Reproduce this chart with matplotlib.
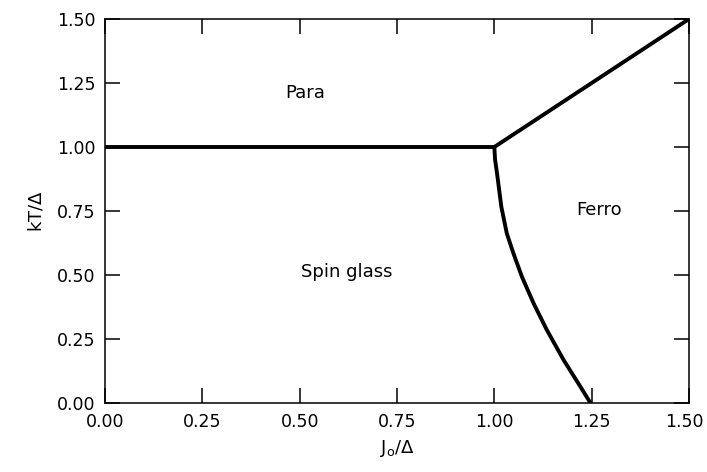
import matplotlib
matplotlib.use("Agg")
import matplotlib.pyplot as plt
from matplotlib.transforms import ScaledTranslation

# Phase boundaries (J0/Delta, kT/Delta)
para_sg_J = [0.0, 1.0]
para_sg_T = [1.0, 1.0]

para_ferro_J = [1.0, 1.5]
para_ferro_T = [1.0, 1.5]

sg_ferro_J = [1.0, 1.002, 1.007, 1.018, 1.032, 1.049, 1.071, 1.101, 1.135, 1.178, 1.221, 1.247]
sg_ferro_T = [1.0, 0.95, 0.897, 0.767, 0.663, 0.585, 0.493, 0.389, 0.285, 0.168, 0.064, 0.0]

ticks = [0.0, 0.25, 0.5, 0.75, 1.0, 1.25, 1.5]
tick_labels = ["0.00", "0.25", "0.50", "0.75", "1.00", "1.25", "1.50"]

region_labels = ["Para", "Spin glass", "Ferro"]
region_J = [0.514, 0.62, 1.27]
region_T = [1.21, 0.51, 0.754]

plt.rcParams["font.family"] = ["DejaVu Sans"]

fig = plt.figure(figsize=(7.07, 4.72), dpi=100)
ax = fig.add_axes([0.1485, 0.1462, 0.826, 0.8135])

lw = 2.8
ax.plot(para_sg_J, para_sg_T, color="black", lw=lw, solid_capstyle="butt")
ax.plot(para_ferro_J, para_ferro_T, color="black", lw=lw, solid_capstyle="butt")
ax.plot(sg_ferro_J, sg_ferro_T, color="black", lw=lw, solid_capstyle="butt",
        solid_joinstyle="round")

for name, j, t in zip(region_labels, region_J, region_T):
    ax.text(j, t, name, ha="center", va="center", fontsize=13)

ax.set_xlim(0, 1.5)
ax.set_ylim(0, 1.5)
ax.set_xticks(ticks)
ax.set_xticklabels(tick_labels)
ax.set_yticks(ticks)
ax.set_yticklabels(tick_labels)
ax.tick_params(direction="in", length=10.5, width=1.1, labelsize=12.5,
               top=True, right=True, pad=7)

# keep the last x tick label inside the canvas
last = ax.get_xticklabels()[-1]
last.set_transform(last.get_transform() + ScaledTranslation(-5 / 100, 0, fig.dpi_scale_trans))

for s in ax.spines.values():
    s.set_linewidth(1.1)

ax.set_xlabel(r"J$_\mathrm{o}$/$\Delta$", fontsize=13, labelpad=5)
ax.set_ylabel(r"kT/$\Delta$", fontsize=13, labelpad=8)

fig.savefig("out.png", dpi=100)
